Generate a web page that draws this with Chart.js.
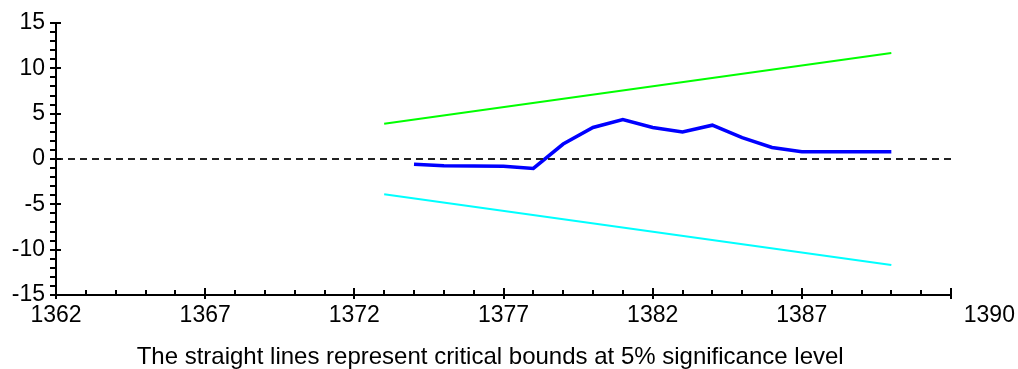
<!DOCTYPE html>
<html>
<head>
<meta charset="utf-8">
<title>CUSUM</title>
<script src="https://cdn.jsdelivr.net/npm/chart.js@4"></script>
<style>
  html, body { margin: 0; padding: 0; background: #fff; }
  #wrap { width: 1018px; height: 369px; position: relative; }
</style>
</head>
<body>
<div id="wrap"><canvas id="cusumChart"></canvas></div>
<script>
// axis range
const xMin = 1362;
const xMax = 1392;
const xLabelYears = [1362, 1367, 1372, 1377, 1382, 1387];
const lastLabel = '1390';

// critical bounds (5%)
const boundYears = [1373, 1390];
const upperBound = [3.9, 11.7];
const lowerBound = [-3.9, -11.7];

// CUSUM statistic
const cusumYears = [1374, 1375, 1376, 1377, 1378, 1379, 1380, 1381, 1382, 1383, 1384, 1385, 1386, 1387, 1388, 1389, 1390];
const cusumValues = [-0.57, -0.75, -0.78, -0.8, -1.04, 1.65, 3.48, 4.36, 3.48, 2.99, 3.73, 2.35, 1.27, 0.8, 0.8, 0.8, 0.8];

const zeroLine = [0, 0];

const toPoints = (xs, ys) => xs.map((x, i) => ({ x: x, y: ys[i] }));

Chart.defaults.font.family = '"Liberation Sans", Arial, sans-serif';
Chart.defaults.color = '#000';

// small tick marks like the original plot (minor every 1, major every 5)
const axisTicks = {
    id: 'axisTicks',
    afterDraw(chart) {
        const { ctx, chartArea, scales } = chart;
        const x = scales.x, y = scales.y;
        ctx.save();
        ctx.strokeStyle = '#000';
        ctx.lineWidth = 2;
        ctx.beginPath();
        for (let v = xMin; v <= xMax; v++) {
            const px = Math.round(x.getPixelForValue(v));
            const major = (v - xMin) % 5 === 0 || v === xMax;
            ctx.moveTo(px, chartArea.bottom + (major ? 4 : 0));
            ctx.lineTo(px, chartArea.bottom - (major ? 7 : 5));
        }
        for (let v = -15; v <= 15; v++) {
            const py = Math.round(y.getPixelForValue(v));
            const major = v % 5 === 0;
            ctx.moveTo(chartArea.left - 6, py);
            ctx.lineTo(chartArea.left + (major ? 5 : 0), py);
        }
        ctx.stroke();
        ctx.restore();
    }
};

const ctx = document.getElementById('cusumChart').getContext('2d');
new Chart(ctx, {
    type: 'line',
    data: {
        datasets: [
            {
                data: toPoints([xMin, xMax], zeroLine),
                borderColor: '#222',
                borderWidth: 2,
                borderDash: [7, 5],
                pointRadius: 0
            },
            {
                data: toPoints(boundYears, upperBound),
                borderColor: '#00ff00',
                borderWidth: 2,
                pointRadius: 0
            },
            {
                data: toPoints(boundYears, lowerBound),
                borderColor: '#00ffff',
                borderWidth: 2,
                pointRadius: 0
            },
            {
                data: toPoints(cusumYears, cusumValues),
                borderColor: '#0000ff',
                borderWidth: 3.5,
                pointRadius: 0
            }
        ]
    },
    options: {
        responsive: true,
        maintainAspectRatio: false,
        animation: false,
        layout: { padding: { top: 23, right: 67, bottom: 0, left: 0 } },
        plugins: {
            legend: { display: false },
            tooltip: { enabled: false }
        },
        scales: {
            x: {
                type: 'linear',
                min: xMin,
                max: xMax,
                grid: { display: false, drawTicks: false },
                border: { display: true, color: '#000', width: 2 },
                ticks: {
                    stepSize: 1,
                    autoSkip: false,
                    maxRotation: 0,
                    minRotation: 0,
                    padding: 7,
                    font: { size: 23 },
                    callback: (v) => {
                        if (xLabelYears.includes(v)) return String(v);
                        if (v === xMax) return ' '.repeat(12) + lastLabel;
                        return '';
                    }
                },
                title: {
                    display: true,
                    text: 'The straight lines represent critical bounds at 5% significance level    ',
                    font: { size: 24, lineHeight: 1 },
                    padding: { top: 0, bottom: 0 }
                },
                afterFit: (scale) => {
                    scale.height = 74;
                    scale.paddingLeft = 0;
                    scale.paddingRight = 0;
                }
            },
            y: {
                min: -15,
                max: 15,
                grid: { display: false, drawTicks: false },
                border: { display: true, color: '#000', width: 2 },
                ticks: {
                    stepSize: 5,
                    padding: 11,
                    font: { size: 23 }
                },
                afterFit: (scale) => {
                    scale.width = 56;
                    scale.paddingTop = 0;
                    scale.paddingBottom = 0;
                }
            }
        }
    },
    plugins: [axisTicks]
});
</script>
</body>
</html>
